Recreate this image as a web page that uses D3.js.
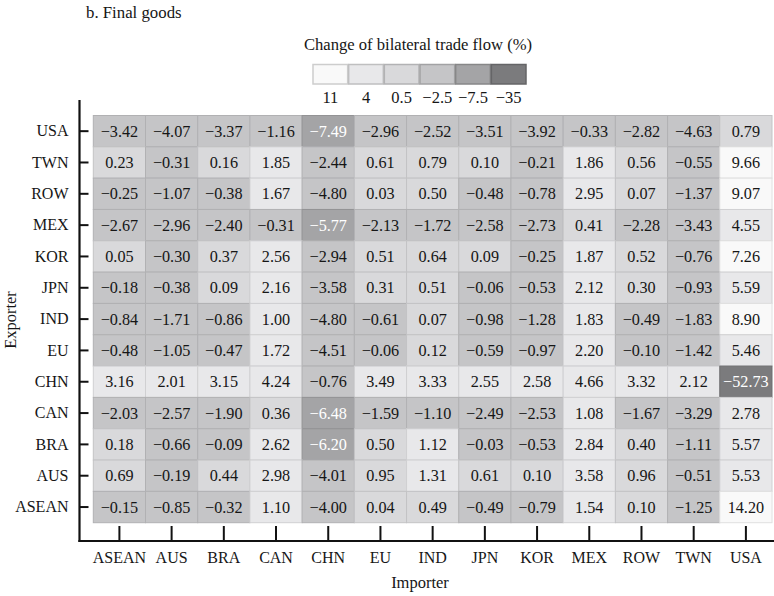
<!DOCTYPE html>
<html>
<head>
<meta charset="utf-8">
<script src="https://cdn.jsdelivr.net/npm/d3@7"></script>
<style>
  html, body { margin: 0; padding: 0; background: #fff; }
  svg { display: block; font-family: "Liberation Serif", "Times New Roman", serif; }
</style>
</head>
<body>
<svg id="chart" width="774" height="596"></svg>
<script>
// Exporters (rows, top to bottom) and importers (columns, left to right)
const exporters = ["USA", "TWN", "ROW", "MEX", "KOR", "JPN", "IND", "EU", "CHN", "CAN", "BRA", "AUS", "ASEAN"];
const importers = ["ASEAN", "AUS", "BRA", "CAN", "CHN", "EU", "IND", "JPN", "KOR", "MEX", "ROW", "TWN", "USA"];

// Change of bilateral trade flow (%), one array per exporter row
const rowUSA   = [-3.42, -4.07, -3.37, -1.16, -7.49, -2.96, -2.52, -3.51, -3.92, -0.33, -2.82, -4.63, 0.79];
const rowTWN   = [0.23, -0.31, 0.16, 1.85, -2.44, 0.61, 0.79, 0.10, -0.21, 1.86, 0.56, -0.55, 9.66];
const rowROW   = [-0.25, -1.07, -0.38, 1.67, -4.80, 0.03, 0.50, -0.48, -0.78, 2.95, 0.07, -1.37, 9.07];
const rowMEX   = [-2.67, -2.96, -2.40, -0.31, -5.77, -2.13, -1.72, -2.58, -2.73, 0.41, -2.28, -3.43, 4.55];
const rowKOR   = [0.05, -0.30, 0.37, 2.56, -2.94, 0.51, 0.64, 0.09, -0.25, 1.87, 0.52, -0.76, 7.26];
const rowJPN   = [-0.18, -0.38, 0.09, 2.16, -3.58, 0.31, 0.51, -0.06, -0.53, 2.12, 0.30, -0.93, 5.59];
const rowIND   = [-0.84, -1.71, -0.86, 1.00, -4.80, -0.61, 0.07, -0.98, -1.28, 1.83, -0.49, -1.83, 8.90];
const rowEU    = [-0.48, -1.05, -0.47, 1.72, -4.51, -0.06, 0.12, -0.59, -0.97, 2.20, -0.10, -1.42, 5.46];
const rowCHN   = [3.16, 2.01, 3.15, 4.24, -0.76, 3.49, 3.33, 2.55, 2.58, 4.66, 3.32, 2.12, -52.73];
const rowCAN   = [-2.03, -2.57, -1.90, 0.36, -6.48, -1.59, -1.10, -2.49, -2.53, 1.08, -1.67, -3.29, 2.78];
const rowBRA   = [0.18, -0.66, -0.09, 2.62, -6.20, 0.50, 1.12, -0.03, -0.53, 2.84, 0.40, -1.11, 5.57];
const rowAUS   = [0.69, -0.19, 0.44, 2.98, -4.01, 0.95, 1.31, 0.61, 0.10, 3.58, 0.96, -0.51, 5.53];
const rowASEAN = [-0.15, -0.85, -0.32, 1.10, -4.00, 0.04, 0.49, -0.49, -0.79, 1.54, 0.10, -1.25, 14.20];
const rowValues = [rowUSA, rowTWN, rowROW, rowMEX, rowKOR, rowJPN, rowIND, rowEU, rowCHN, rowCAN, rowBRA, rowAUS, rowASEAN];

// Colour classes: break points and the representative value printed under each swatch
const classBreaks = [-10, -5, 0, 1, 7];
const classLabels = [-35, -7.5, -2.5, 0.5, 4, 11];
const classColors = ["#7b7b7d", "#a4a4a6", "#c5c5c7", "#d9d9db", "#e8e8ea", "#f9f9f9"];

const fmtNum = v => (v < 0 ? "\u2212" : "") + Math.abs(v).toFixed(2);
const fmtLegend = v => (v < 0 ? "\u2212" : "") + Math.abs(v);

const cells = [];
exporters.forEach((ex, i) => {
  importers.forEach((im, j) => {
    cells.push({ exporter: ex, importer: im, value: rowValues[i][j] });
  });
});

const ink = "#161616";
const svg = d3.select("#chart");

const x = d3.scaleBand().domain(importers).range([93.3, 772]).padding(0);
const y = d3.scaleBand().domain(exporters).range([115.5, 522.7]).padding(0);
const color = d3.scaleThreshold().domain(classBreaks).range(classColors);
const darkIdx = new Set([classColors[0], classColors[1]]);

// Title
svg.append("text")
  .attr("x", 86).attr("y", 18)
  .attr("font-size", 16.8).attr("fill", ink)
  .text("b. Final goods");

// Legend
const legendValues = classLabels.slice().reverse();
const legendX = d3.scaleBand()
  .domain(legendValues)
  .range([312.5, 526.5]).padding(0);

svg.append("text")
  .attr("x", 418).attr("y", 50)
  .attr("text-anchor", "middle")
  .attr("font-size", 16.6).attr("fill", ink)
  .text("Change of bilateral trade flow (%)");

const lg = svg.append("g");
lg.selectAll("rect")
  .data(legendValues)
  .join("rect")
  .attr("x", d => legendX(d) + 0.5)
  .attr("y", 64.5)
  .attr("width", legendX.bandwidth() - 1)
  .attr("height", 19.5)
  .attr("fill", d => color(d))
  .attr("stroke", d => d3.color(color(d)).darker(0.55))
  .attr("stroke-width", 1.5);
lg.selectAll("text")
  .data(legendValues)
  .join("text")
  .attr("x", d => legendX(d) + legendX.bandwidth() / 2)
  .attr("y", 103)
  .attr("text-anchor", "middle")
  .attr("font-size", 16.5).attr("fill", ink)
  .text(fmtLegend);

// Heatmap cells
const cg = svg.append("g");
cg.selectAll("rect")
  .data(cells)
  .join("rect")
  .attr("x", d => x(d.importer))
  .attr("y", d => y(d.exporter))
  .attr("width", x.bandwidth())
  .attr("height", y.bandwidth())
  .attr("fill", d => color(d.value))
  .attr("stroke", d => d3.color(color(d.value)).darker(0.3))
  .attr("stroke-width", 1);

cg.selectAll("text")
  .data(cells)
  .join("text")
  .attr("x", d => x(d.importer) + x.bandwidth() / 2)
  .attr("y", d => y(d.exporter) + y.bandwidth() / 2)
  .attr("dy", "0.35em")
  .attr("text-anchor", "middle")
  .attr("font-size", 16.2)
  .attr("fill", d => darkIdx.has(color(d.value)) ? "#ffffff" : ink)
  .text(d => fmtNum(d.value));

// Axes: ticks point inward from spines set apart from the cells
const yAxis = d3.axisLeft(y).tickSizeInner(-9).tickSizeOuter(0).tickPadding(11);
const gy = svg.append("g").attr("transform", "translate(79.5,0)").call(yAxis);
gy.select(".domain").remove();
gy.selectAll(".tick line").attr("stroke", "#111").attr("stroke-width", 2);
gy.selectAll(".tick text").attr("font-size", 16).attr("fill", ink)
  .attr("font-family", "Liberation Serif, serif");

const xAxis = d3.axisBottom(x).tickSizeInner(-15).tickSizeOuter(0).tickPadding(11);
const gx = svg.append("g").attr("transform", "translate(0,541)").call(xAxis);
gx.select(".domain").remove();
gx.selectAll(".tick line").attr("stroke", "#111").attr("stroke-width", 2);
gx.selectAll(".tick text").attr("font-size", 16).attr("fill", ink)
  .attr("font-family", "Liberation Serif, serif");

// Spines
svg.append("line")
  .attr("x1", 79.5).attr("x2", 79.5).attr("y1", 100).attr("y2", 542)
  .attr("stroke", "#111").attr("stroke-width", 2.2);
svg.append("line")
  .attr("x1", 78.4).attr("x2", 774).attr("y1", 541).attr("y2", 541)
  .attr("stroke", "#111").attr("stroke-width", 2.2);

// Axis titles
svg.append("text")
  .attr("transform", "translate(16,320) rotate(-90)")
  .attr("text-anchor", "middle")
  .attr("font-size", 16.5).attr("fill", ink)
  .text("Exporter");
svg.append("text")
  .attr("x", 420).attr("y", 588)
  .attr("text-anchor", "middle")
  .attr("font-size", 16.5).attr("fill", ink)
  .text("Importer");
</script>
</body>
</html>
